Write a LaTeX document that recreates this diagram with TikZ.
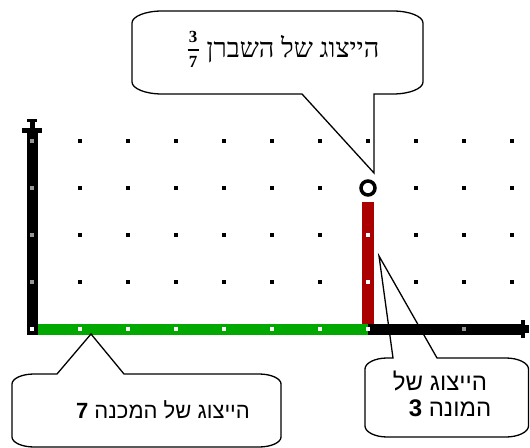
\documentclass[tikz,border=0pt]{standalone}
\usepackage{fontspec}
\setmainfont{Liberation Sans}
\newfontfamily\hebsans[Script=Hebrew]{Liberation Sans}
\newfontfamily\hebserif[Script=Hebrew]{Liberation Serif}
\TeXXeTstate=1
\definecolor{axgreen}{RGB}{0,168,0}
\definecolor{axred}{RGB}{170,0,0}
\definecolor{dotgray}{RGB}{150,150,150}
\begin{document}
\begin{tikzpicture}[x=1bp,y=-1bp,
  callout/.style={draw=black,line width=1.3bp,line join=miter},
  griddot/.style={rectangle,draw=none,fill=black,inner sep=0pt,minimum size=3.3bp},
  axdot/.style={griddot,fill=dotgray},
  wdot/.style={griddot,fill=white},
  txt/.style={inner sep=0pt,text=black}]
\useasboundingbox (0,0) rectangle (530,448);
\fill[white] (0,0) rectangle (530,448);

% interior grid dots
\foreach \x in {80,128,176,224,272,320,416,464,512}
  \foreach \y in {141,188,235,282}
    \node[griddot] (d\x-\y) at (\x,\y) {};
\node[griddot] (d368-141) at (368,141) {};

% axes
\fill[axgreen] (37.5,323.5) rectangle (368,334.5);
\fill[black] (368,323.5) rectangle (521,334.5);
\fill[black] (521,320) rectangle (525,338);
\fill[black] (525,325) rectangle (529,333);
\fill[black] (26.5,128) rectangle (37.5,334.5);
\fill[black] (22,128) rectangle (42,133);
\fill[black] (29.5,121) rectangle (34.5,128);
\fill[black] (27,119.5) rectangle (37,122.5);

% numerator bar and denominator mark
\fill[axred] (362,202) rectangle (374,323.5);
\node[circle,draw=black,line width=3.5bp,minimum size=14bp,inner sep=0pt] (mark) at (368,188) {};

% dots on the axes
\foreach \y in {141,188,235,282}
  \node[axdot] (ya\y) at (32,\y) {};
\node[wdot] (origin) at (32,329) {};
\foreach \x in {80,128,176,224,272,320,368}
  \node[wdot] (xa\x) at (\x,329) {};
\node[wdot] (r235) at (368,235) {};
\node[wdot] (r282) at (368,282) {};
\node[axdot] (xa464) at (464,329) {};

% pointer tips
\coordinate (tipTop) at (374,173);
\coordinate (tipLeft) at (91,334);
\coordinate (tipRight) at (379,256);

% top callout
\draw[callout] (302,94) -- (tipTop) -- (374,94) -- (393,94)
  .. controls (409.5,94) and (423,88.6) .. (423,82) -- (423,23)
  .. controls (423,16.4) and (409.5,11) .. (393,11) -- (162,11)
  .. controls (145.5,11) and (132,16.4) .. (132,23) -- (132,82)
  .. controls (132,88.6) and (145.5,94) .. (162,94) -- cycle;

% bottom-left callout
\draw[callout] (57,374) -- (tipLeft) -- (124,374) -- (259,374)
  .. controls (271,374) and (281,378.5) .. (281,384) -- (281,437)
  .. controls (281,442.5) and (271,447) .. (259,447) -- (34,447)
  .. controls (22,447) and (12,442.5) .. (12,437) -- (12,384)
  .. controls (12,378.5) and (22,374) .. (34,374) -- cycle;

% bottom-right callout
\draw[callout] (393,358) -- (tipRight) -- (437,358) -- (506,358)
  .. controls (518,358) and (528.5,363) .. (528.5,369) -- (528.5,426)
  .. controls (528.5,432) and (518,437) .. (506,437) -- (387,437)
  .. controls (375,437) and (365,432) .. (365,426) -- (365,369)
  .. controls (365,363) and (375,358) .. (387,358) -- cycle;

% texts
\node[txt,font=\hebserif\fontsize{27bp}{30bp}\selectfont] (ttop) at (293,49)
  {\beginR הייצוג של השברן\endR};
\node[txt,font=\hebserif\bfseries\fontsize{17bp}{17bp}\selectfont] (fnum) at (193,37) {3};
\node[txt,font=\hebserif\bfseries\fontsize{17bp}{17bp}\selectfont] (fden) at (193,62) {7};
\draw[line width=1.1bp] (187.5,50) -- (199,50);

\node[txt,font=\hebsans\fontsize{22bp}{24bp}\selectfont] (tbl) at (163,410)
  {\beginR הייצוג של המכנה {\bfseries 7}\endR};
\node[txt,font=\hebsans\fontsize{24bp}{26bp}\selectfont] (tbr1) at (440,381)
  {\beginR הייצוג של\endR};
\node[txt,font=\hebsans\fontsize{24bp}{26bp}\selectfont] (tbr2) at (450,408)
  {\beginR המונה {\bfseries 3}\endR};
\end{tikzpicture}
\end{document}
